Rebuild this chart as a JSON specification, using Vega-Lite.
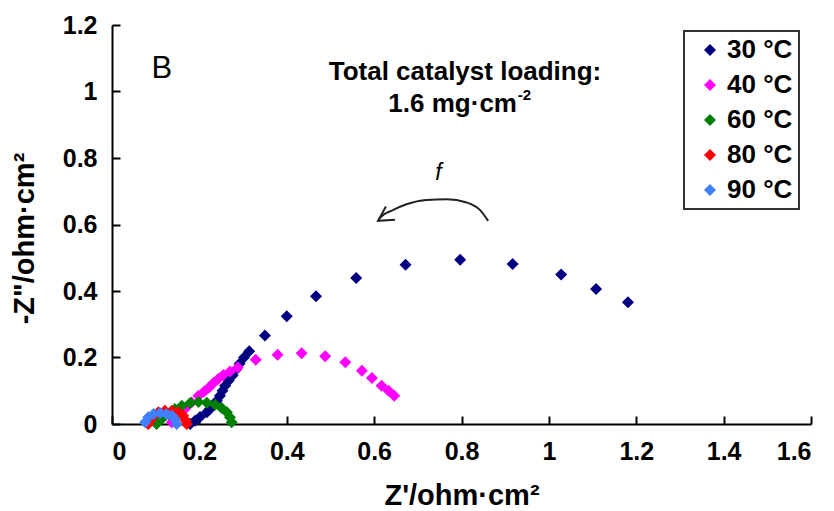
{
  "$schema": "https://vega.github.io/schema/vega-lite/v6.json",
  "width": 699,
  "height": 399,
  "autosize": "none",
  "padding": {"left": 112, "top": 25, "right": 23, "bottom": 87},
  "background": "white",
  "config": {
    "view": {"stroke": null},
    "font": "Liberation Sans",
    "axis": {
      "grid": false,
      "domainColor": "black",
      "domainWidth": 2,
      "tickColor": "black",
      "tickWidth": 2,
      "tickSize": -8,
      "labelFont": "Liberation Sans",
      "labelFontSize": 25,
      "labelFontWeight": "bold",
      "labelColor": "black",
      "titleFont": "Liberation Sans",
      "titleFontSize": 29,
      "titleFontWeight": "bold",
      "titleColor": "black"
    }
  },
  "datasets": {
    "pts": [
      {"T": "30 °C", "x": 0.179, "y": 0.0},
      {"T": "30 °C", "x": 0.19, "y": 0.01},
      {"T": "30 °C", "x": 0.2015, "y": 0.021},
      {"T": "30 °C", "x": 0.217, "y": 0.035},
      {"T": "30 °C", "x": 0.224, "y": 0.045},
      {"T": "30 °C", "x": 0.232, "y": 0.056},
      {"T": "30 °C", "x": 0.24, "y": 0.07},
      {"T": "30 °C", "x": 0.247, "y": 0.085},
      {"T": "30 °C", "x": 0.253, "y": 0.1},
      {"T": "30 °C", "x": 0.259, "y": 0.115},
      {"T": "30 °C", "x": 0.267, "y": 0.13},
      {"T": "30 °C", "x": 0.276, "y": 0.146},
      {"T": "30 °C", "x": 0.284, "y": 0.163},
      {"T": "30 °C", "x": 0.292, "y": 0.181},
      {"T": "30 °C", "x": 0.302, "y": 0.2},
      {"T": "30 °C", "x": 0.314, "y": 0.219},
      {"T": "30 °C", "x": 0.35, "y": 0.266},
      {"T": "30 °C", "x": 0.4, "y": 0.324},
      {"T": "30 °C", "x": 0.467, "y": 0.384},
      {"T": "30 °C", "x": 0.559, "y": 0.439},
      {"T": "30 °C", "x": 0.672, "y": 0.479},
      {"T": "30 °C", "x": 0.797, "y": 0.494},
      {"T": "30 °C", "x": 0.917, "y": 0.481},
      {"T": "30 °C", "x": 1.028, "y": 0.45},
      {"T": "30 °C", "x": 1.108, "y": 0.406},
      {"T": "30 °C", "x": 1.181, "y": 0.366},
      {"T": "40 °C", "x": 0.137, "y": 0.005},
      {"T": "40 °C", "x": 0.152, "y": 0.025},
      {"T": "40 °C", "x": 0.167, "y": 0.045},
      {"T": "40 °C", "x": 0.182, "y": 0.065},
      {"T": "40 °C", "x": 0.198, "y": 0.085},
      {"T": "40 °C", "x": 0.211, "y": 0.098},
      {"T": "40 °C", "x": 0.222, "y": 0.11},
      {"T": "40 °C", "x": 0.232, "y": 0.123},
      {"T": "40 °C", "x": 0.243, "y": 0.135},
      {"T": "40 °C", "x": 0.255, "y": 0.147},
      {"T": "40 °C", "x": 0.27, "y": 0.158},
      {"T": "40 °C", "x": 0.288, "y": 0.17},
      {"T": "40 °C", "x": 0.329, "y": 0.193},
      {"T": "40 °C", "x": 0.379, "y": 0.208},
      {"T": "40 °C", "x": 0.434, "y": 0.213},
      {"T": "40 °C", "x": 0.488, "y": 0.204},
      {"T": "40 °C", "x": 0.534, "y": 0.186},
      {"T": "40 °C", "x": 0.572, "y": 0.16},
      {"T": "40 °C", "x": 0.595, "y": 0.138},
      {"T": "40 °C", "x": 0.617, "y": 0.115},
      {"T": "40 °C", "x": 0.633, "y": 0.1},
      {"T": "40 °C", "x": 0.646, "y": 0.085},
      {"T": "60 °C", "x": 0.102, "y": 0.0},
      {"T": "60 °C", "x": 0.114, "y": 0.015},
      {"T": "60 °C", "x": 0.129, "y": 0.03},
      {"T": "60 °C", "x": 0.144, "y": 0.045},
      {"T": "60 °C", "x": 0.16, "y": 0.055},
      {"T": "60 °C", "x": 0.179, "y": 0.063},
      {"T": "60 °C", "x": 0.198, "y": 0.066},
      {"T": "60 °C", "x": 0.217, "y": 0.064},
      {"T": "60 °C", "x": 0.236, "y": 0.058},
      {"T": "60 °C", "x": 0.251, "y": 0.048},
      {"T": "60 °C", "x": 0.263, "y": 0.035},
      {"T": "60 °C", "x": 0.27, "y": 0.02},
      {"T": "60 °C", "x": 0.274, "y": 0.005},
      {"T": "80 °C", "x": 0.083, "y": 0.0},
      {"T": "80 °C", "x": 0.087, "y": 0.01},
      {"T": "80 °C", "x": 0.095, "y": 0.025},
      {"T": "80 °C", "x": 0.106, "y": 0.035},
      {"T": "80 °C", "x": 0.121, "y": 0.04},
      {"T": "80 °C", "x": 0.137, "y": 0.04},
      {"T": "80 °C", "x": 0.152, "y": 0.035},
      {"T": "80 °C", "x": 0.163, "y": 0.025},
      {"T": "80 °C", "x": 0.169, "y": 0.01},
      {"T": "80 °C", "x": 0.171, "y": 0.0},
      {"T": "90 °C", "x": 0.076, "y": 0.005},
      {"T": "90 °C", "x": 0.083, "y": 0.02},
      {"T": "90 °C", "x": 0.095, "y": 0.03},
      {"T": "90 °C", "x": 0.11, "y": 0.033},
      {"T": "90 °C", "x": 0.125, "y": 0.03},
      {"T": "90 °C", "x": 0.137, "y": 0.025},
      {"T": "90 °C", "x": 0.144, "y": 0.015},
      {"T": "90 °C", "x": 0.148, "y": 0.0}
    ],
    "arrow": [
      {"o": 1, "x": 0.861, "y": 0.611},
      {"o": 2, "x": 0.842, "y": 0.644},
      {"o": 3, "x": 0.812, "y": 0.666},
      {"o": 4, "x": 0.766, "y": 0.676},
      {"o": 5, "x": 0.72, "y": 0.674},
      {"o": 6, "x": 0.674, "y": 0.661},
      {"o": 7, "x": 0.644, "y": 0.644},
      {"o": 8, "x": 0.613, "y": 0.619},
      {"o": 9, "x": 0.61, "y": 0.611}
    ],
    "head": [
      {"o": 1, "x": 0.627, "y": 0.654},
      {"o": 2, "x": 0.609, "y": 0.611},
      {"o": 3, "x": 0.648, "y": 0.614}
    ],
    "lblB": [{"x": 0.114, "y": 1.04, "t": "B"}],
    "lblTitle": [{"x": 0.808, "y": 1.035, "t": "Total catalyst loading:"}],
    "lblLoad": [{"x": 0.927, "y": 0.939, "t": "1.6 mg·cm"}],
    "lblSup": [{"x": 0.929, "y": 0.975, "t": "-2"}],
    "lblF": [{"x": 0.747, "y": 0.734, "t": "f"}]
  },
  "encoding": {
    "x": {"field": "x", "type": "quantitative", "scale": {"domain": [0, 1.6], "nice": false, "zero": false},
      "axis": {"title": "Z'/ohm·cm²", "values": [0, 0.2, 0.4, 0.6, 0.8, 1, 1.2, 1.4, 1.6], "format": ".1~f",
        "labelPadding": 43, "labelBaseline": "alphabetic", "titleY": 80, "titleBaseline": "alphabetic"}},
    "y": {"field": "y", "type": "quantitative", "scale": {"domain": [0, 1.2], "nice": false, "zero": false},
      "axis": {"title": "-Z\"/ohm·cm²", "values": [0, 0.2, 0.4, 0.6, 0.8, 1, 1.2], "format": ".1~f",
        "labelPadding": 23, "titleX": -79, "titleY": 213, "titleBaseline": "alphabetic"}}
  },
  "layer": [
    {
      "data": {"name": "pts"},
      "mark": {"type": "point", "shape": "diamond", "filled": true, "size": 144, "opacity": 1},
      "encoding": {
        "color": {"field": "T", "type": "nominal",
          "scale": {"domain": ["30 °C", "40 °C", "60 °C", "80 °C", "90 °C"], "range": ["#000080", "#FF00FF", "#008000", "#FF0000", "#4080FF"]},
          "legend": {"title": null, "orient": "none", "legendX": 572, "legendY": 6, "symbolType": "diamond", "symbolSize": 144,
            "labelFontSize": 26, "labelFontWeight": "bold", "labelColor": "black", "labelFont": "Liberation Sans",
            "padding": 6, "rowPadding": 9, "symbolOffset": 7, "labelOffset": 4, "strokeColor": "#333",
            "symbolStrokeWidth": 0, "symbolOpacity": 1,
            "encode": {"legend": {"update": {"strokeWidth": {"value": 2}}}}}
        }
      }
    },
    {
      "data": {"name": "arrow"},
      "mark": {"type": "line", "interpolate": "monotone", "color": "#222", "strokeWidth": 2},
      "encoding": {"order": {"field": "o", "type": "quantitative"}}
    },
    {
      "data": {"name": "head"},
      "mark": {"type": "line", "color": "#222", "strokeWidth": 2},
      "encoding": {"order": {"field": "o", "type": "quantitative"}}
    },
    {
      "data": {"name": "lblB"},
      "mark": {"type": "text", "color": "black", "baseline": "alphabetic", "align": "center", "font": "Liberation Sans", "fontSize": 31, "fontWeight": "normal"},
      "encoding": {"text": {"field": "t"}}
    },
    {
      "data": {"name": "lblTitle"},
      "mark": {"type": "text", "color": "black", "baseline": "alphabetic", "align": "center", "font": "Liberation Sans", "fontSize": 26, "fontWeight": "bold"},
      "encoding": {"text": {"field": "t"}}
    },
    {
      "data": {"name": "lblLoad"},
      "mark": {"type": "text", "color": "black", "baseline": "alphabetic", "align": "right", "font": "Liberation Sans", "fontSize": 26, "fontWeight": "bold"},
      "encoding": {"text": {"field": "t"}}
    },
    {
      "data": {"name": "lblSup"},
      "mark": {"type": "text", "color": "black", "baseline": "alphabetic", "align": "left", "font": "Liberation Sans", "fontSize": 15, "fontWeight": "bold"},
      "encoding": {"text": {"field": "t"}}
    },
    {
      "data": {"name": "lblF"},
      "mark": {"type": "text", "color": "black", "baseline": "alphabetic", "align": "center", "font": "Liberation Sans", "fontSize": 23, "fontStyle": "italic"},
      "encoding": {"text": {"field": "t"}}
    }
  ]
}
